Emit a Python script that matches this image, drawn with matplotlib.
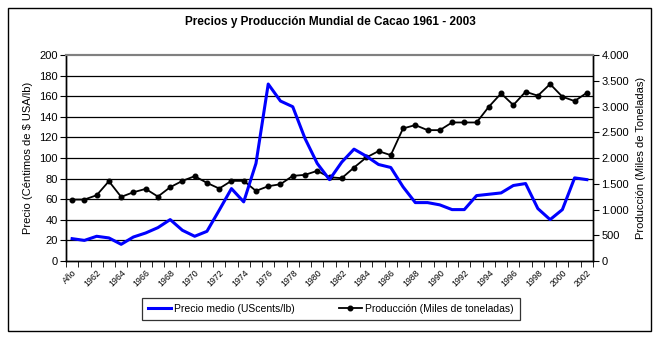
import matplotlib
matplotlib.use("Agg")
import matplotlib.pyplot as plt
from matplotlib.patches import Rectangle
from matplotlib.ticker import FuncFormatter

plt.rcParams['font.family'] = ['Liberation Sans', 'DejaVu Sans']

# categorias del eje x (la primera viene como "Año" en la hoja original)
categorias = ['Año'] + [str(a) for a in range(1961, 2003)]

# precio medio (UScents/lb)
precio = [21.7, 20.0, 24.0, 22.4, 16.2, 23.3, 27.2, 32.4, 40.2, 29.8,
          24.0, 28.8, 49.3, 70.3, 57.4, 94.7, 171.8, 155.3, 149.8, 119.0,
          94.7, 79.0, 96.0, 108.6, 101.8, 93.7, 90.8, 72.0, 56.7, 56.7,
          54.5, 49.9, 49.9, 63.5, 64.8, 66.1, 73.3, 75.2, 50.9, 40.2,
          49.9, 80.7, 79.0]

# produccion (miles de toneladas)
produccion = [1193, 1193, 1277, 1549, 1245, 1335, 1400, 1251, 1433, 1556,
              1647, 1517, 1407, 1556, 1556, 1361, 1452, 1491, 1653, 1673,
              1750, 1627, 1608, 1815, 2010, 2133, 2055, 2574, 2639, 2541,
              2541, 2690, 2690, 2690, 2995, 3254, 3028, 3287, 3209, 3436,
              3190, 3105, 3267]

x = list(range(len(categorias)))

fig = plt.figure(figsize=(6.6, 3.4), dpi=100)
ax = fig.add_axes([66/660, 1 - 261/340, (593-66)/660, (261-55)/340])
ax2 = ax.twinx()

# rejilla horizontal
for v in range(20, 200, 20):
    ax.axhline(v, color='black', lw=0.9, zorder=0)

l1, = ax.plot(x, precio, color='#0000FF', lw=2.2, zorder=3,
              label='Precio medio (UScents/lb)')
l2, = ax2.plot(x, produccion, color='black', lw=1.3, marker='o', ms=3.3,
               label='Producción (Miles de toneladas)')
ax.set_zorder(ax2.get_zorder() + 1)
ax.patch.set_visible(False)

ax.set_xlim(-0.5, len(x) - 0.5)
ax.set_ylim(0, 200)
ax2.set_ylim(0, 4000)
ax.set_yticks(range(0, 201, 20))
ax2.set_yticks(range(0, 4001, 500))
ax2.yaxis.set_major_formatter(FuncFormatter(lambda v, p: f"{int(v):,}".replace(',', '.')))

# ticks del eje x en los limites de categoria, etiquetas cada dos
ax.set_xticks([i - 0.5 for i in range(len(x) + 1)], minor=True)
ax.set_xticks(x[::2])
ax.set_xticklabels(categorias[::2], rotation=45, ha='right',
                   rotation_mode='anchor', fontsize=6.3)
ax.tick_params(axis='x', which='major', length=0, pad=5)
ax.tick_params(axis='x', which='minor', length=4, direction='out')
ax.tick_params(axis='y', labelsize=8, length=4, pad=2)
ax2.tick_params(axis='y', labelsize=8, length=4, pad=2)

for a in (ax, ax2):
    a.spines['top'].set_color('#808080')
    a.spines['top'].set_linewidth(1.5)
    a.spines['left'].set_linewidth(1.0)
    a.spines['right'].set_linewidth(1.0)
    a.spines['bottom'].set_linewidth(1.0)

ax.set_ylabel('Precio (Céntimos de $ USA/lb)', fontsize=8, labelpad=4)
ax2.set_ylabel('Producción (Miles de Toneladas)', fontsize=8, labelpad=5)

fig.text(0.5, 1 - 22/340, 'Precios y Producción Mundial de Cacao 1961 - 2003',
         ha='center', va='center', fontsize=8.5, fontweight='bold')

leg = fig.legend(handles=[l1, l2], loc='center', ncol=2,
                 bbox_to_anchor=(331/660, 1 - 309/340), fontsize=7.5,
                 frameon=True, fancybox=False, edgecolor='black',
                 handlelength=2.2, columnspacing=4.2, borderpad=0.6,
                 handletextpad=0.3)
leg.get_frame().set_linewidth(0.9)

# marco exterior del grafico
fig.patches.append(Rectangle((8/660, 1 - 331/340), (651-8)/660, (331-8)/340,
                             transform=fig.transFigure, fill=False,
                             edgecolor='black', lw=1.0))

fig.savefig('out.png', dpi=100)
